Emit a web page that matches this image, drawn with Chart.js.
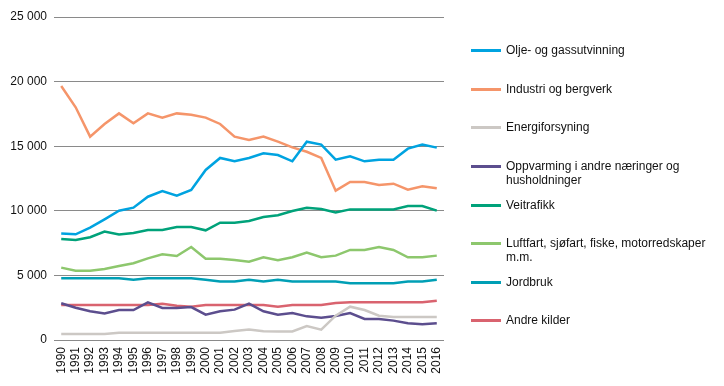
<!DOCTYPE html>
<html>
<head>
<meta charset="utf-8">
<script src="https://cdn.jsdelivr.net/npm/chart.js@4/dist/chart.umd.min.js"></script>
<style>
  html, body { margin:0; padding:0; background:#fff; }
  #wrap { position:relative; width:724px; height:386px; }
  canvas { position:absolute; left:0; top:0; }
  #legend { position:absolute; left:0; top:0; width:724px; height:386px; pointer-events:none;
    font-family:"Liberation Sans", Arial, sans-serif; font-size:12px; color:#111; }
  .li { position:absolute; left:471px; }
  .sw { position:absolute; left:0; width:30px; height:3px; }
  .tx { position:absolute; left:35px; white-space:nowrap; line-height:14px; }
</style>
</head>
<body>
<div id="wrap"><canvas id="c" width="724" height="386"></canvas><div id="legend"></div></div>
<script>
const years = ["1990","1991","1992","1993","1994","1995","1996","1997","1998","1999","2000","2001","2002","2003","2004","2005","2006","2007","2008","2009","2010","2011","2012","2013","2014","2015","2016"];
const yTicks = [0, 5000, 10000, 15000, 20000, 25000];

const oljeGass = [8250,8180,8700,9340,10010,10240,11090,11530,11170,11610,13160,14090,13830,14090,14450,14320,13830,15350,15120,13960,14220,13830,13960,13960,14810,15120,14890];
const industri = [19660,18010,15740,16720,17540,16770,17540,17210,17540,17440,17210,16720,15740,15480,15740,15350,14910,14570,14090,11560,12230,12230,12000,12100,11640,11890,11740];
const energi = [460,460,460,460,570,570,570,570,570,570,570,570,700,820,680,660,660,1080,800,1880,2580,2320,1880,1780,1780,1780,1780];
const oppvarming = [2840,2500,2220,2060,2320,2320,2920,2480,2480,2550,1960,2220,2350,2810,2220,1960,2090,1830,1730,1860,2090,1630,1630,1500,1290,1210,1290];
const veitrafikk = [7820,7740,7950,8390,8160,8280,8510,8510,8750,8750,8490,9080,9080,9210,9520,9650,9980,10240,10140,9880,10110,10110,10110,10110,10370,10370,10010];
const luftfart = [5600,5360,5360,5490,5730,5940,6320,6630,6500,7200,6290,6290,6190,6060,6400,6170,6400,6760,6400,6530,6970,6970,7200,6970,6400,6400,6530];
const jordbruk = [4780,4780,4780,4780,4780,4670,4780,4780,4780,4780,4670,4520,4520,4670,4520,4670,4520,4520,4520,4520,4390,4390,4390,4390,4520,4520,4670];
const andreKilder = [2710,2710,2710,2710,2710,2710,2710,2810,2660,2580,2710,2710,2710,2710,2710,2580,2710,2710,2710,2860,2920,2920,2920,2920,2920,2920,3040];

const seriesNames = ["Olje- og gassutvinning","Industri og bergverk","Energiforsyning","Oppvarming i andre næringer og husholdninger","Veitrafikk","Luftfart, sjøfart, fiske, motorredskaper m.m.","Jordbruk","Andre kilder"];
const legendLines = [["Olje- og gassutvinning"],["Industri og bergverk"],["Energiforsyning"],["Oppvarming i andre næringer og","husholdninger"],["Veitrafikk"],["Luftfart, sjøfart, fiske, motorredskaper","m.m."],["Jordbruk"],["Andre kilder"]];
const seriesData = [oljeGass, industri, energi, oppvarming, veitrafikk, luftfart, jordbruk, andreKilder];
const colors = ["#00a3e0","#f5956a","#ccc8c4","#5c4e8e","#00a27a","#8dc76d","#009fb5","#d9636f"];
const legendY = [50, 89, 127, 166, 205, 243, 282, 320];

const ds = seriesData.map((d,i)=>({
  label: seriesNames[i], data: d, borderColor: colors[i], backgroundColor: colors[i],
  borderWidth: 2.5, pointRadius: 0, tension: 0, fill: false
}));

const fmt = v => String(v).replace(/\B(?=(\d{3})+(?!\d))/g, " ");
const FONT = '"Liberation Sans", Arial, sans-serif';

new Chart(document.getElementById('c'), {
  type: 'line',
  data: { labels: years, datasets: ds },
  options: {
    responsive: false, animation: false,
    layout: { padding: { top: 17, right: 280, left: 0, bottom: 0 } },
    plugins: { legend: { display: false }, tooltip: { enabled: false } },
    scales: {
      x: {
        offset: true,
        grid: { display: false, drawTicks: false },
        border: { display: false },
        ticks: { color: '#111', font: { family: FONT, size: 12 },
          minRotation: 90, maxRotation: 90, autoSkip: false, padding: 7 },
        afterFit: s => { s.height = 46; }
      },
      y: {
        min: 0, max: 25000,
        afterBuildTicks: s => { s.ticks = yTicks.map(v => ({ value: v })); },
        grid: { color: '#8a8a8a', lineWidth: 1, drawTicks: false },
        border: { display: false },
        ticks: { color: '#111', font: { family: FONT, size: 12 },
          padding: 7, callback: v => fmt(v) },
        afterFit: s => { s.width = 54; }
      }
    }
  }
});

const lg = document.getElementById('legend');
legendLines.forEach((lines,i)=>{
  const li = document.createElement('div');
  li.className = 'li'; li.style.top = legendY[i] + 'px';
  const sw = document.createElement('div'); sw.className='sw'; sw.style.background = colors[i]; sw.style.top='-1px';
  const tx = document.createElement('div'); tx.className='tx'; tx.style.top='-7px';
  tx.innerHTML = lines.join('<br>');
  li.appendChild(sw); li.appendChild(tx); lg.appendChild(li);
});
</script>
</body>
</html>
